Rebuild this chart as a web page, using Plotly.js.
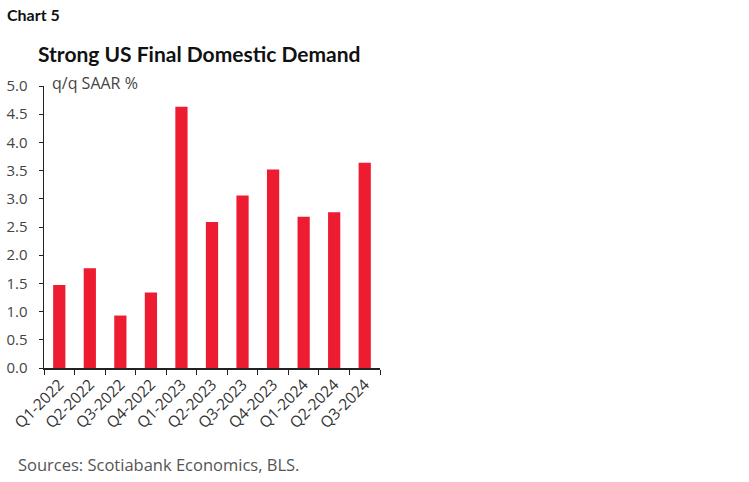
<!DOCTYPE html>
<html>
<head>
<meta charset="utf-8">
<script src="https://cdn.plot.ly/plotly-3.0.1.min.js"></script>
<style>
  html, body { margin: 0; padding: 0; background: #fff; }
  #chart { width: 749px; height: 482px; }
</style>
</head>
<body>
<div id="chart"></div>
<script>
// 数据：季度 + 环比年化增速
const quarters = [
  "Q1-2022", "Q2-2022", "Q3-2022", "Q4-2022",
  "Q1-2023", "Q2-2023", "Q3-2023", "Q4-2023",
  "Q1-2024", "Q2-2024", "Q3-2024",
];
const demandGrowth = [1.47, 1.77, 0.93, 1.34, 4.63, 2.59, 3.06, 3.52, 2.68, 2.76, 3.64];
const yTicks = [0, 0.5, 1, 1.5, 2, 2.5, 3, 3.5, 4, 4.5, 5];

const BAR_RED = "#ED1C31";
const boldFont = "Lato, 'Open Sans', sans-serif";
const textFont = "'Open Sans', Lato, sans-serif";

const trace = {
  x: quarters,
  y: demandGrowth,
  type: "bar",
  width: 0.4,
  marker: { color: BAR_RED },
  hoverinfo: "skip",
};

const layout = {
  width: 749,
  height: 482,
  margin: { t: 86, r: 369, b: 114, l: 44 },
  paper_bgcolor: "#fff",
  plot_bgcolor: "#fff",
  showlegend: false,
  font: { family: textFont, size: 15, color: "#444" },
  xaxis: {
    type: "category",
    tickson: "boundaries",
    ticks: "outside",
    ticklen: 5,
    tickcolor: "#222",
    showline: true,
    linecolor: "#222",
    linewidth: 1.5,
    showgrid: false,
    zeroline: false,
    tickangle: -45,
    tickfont: { family: textFont, size: 15.5, color: "#333" },
  },
  yaxis: {
    range: [0, 5],
    tickvals: yTicks,
    ticktext: yTicks.map((v) => v.toFixed(1)),
    ticks: "outside",
    ticklen: 4,
    ticklabelstandoff: 8,
    tickcolor: "#222",
    showline: true,
    linecolor: "#222",
    linewidth: 1.5,
    showgrid: false,
    zeroline: false,
    tickfont: { family: textFont, size: 15, color: "#444" },
  },
  annotations: [
    {
      text: "<b>Chart 5</b>",
      xref: "paper", yref: "paper",
      x: 0, y: 1,
      xanchor: "left", yanchor: "middle",
      // 相对纸面定位
      xshift: -39, yshift: 72,
      showarrow: false,
      font: { family: boldFont, size: 16, color: "#111" },
    },
    {
      text: "<b>Strong US Final Domestic Demand</b>",
      xref: "paper", yref: "paper",
      x: 0, y: 1,
      xanchor: "left", yanchor: "middle",
      xshift: -8, yshift: 33,
      showarrow: false,
      font: { family: boldFont, size: 21, color: "#111" },
    },
    {
      text: "q/q SAAR %",
      xref: "paper", yref: "paper",
      x: 0, y: 1,
      xanchor: "left", yanchor: "middle",
      xshift: 6, yshift: 3,
      showarrow: false,
      font: { family: textFont, size: 16, color: "#444" },
    },
    {
      text: "Sources: Scotiabank Economics, BLS.",
      xref: "paper", yref: "paper",
      x: 0, y: 0,
      xanchor: "left", yanchor: "middle",
      xshift: -28, yshift: -96,
      showarrow: false,
      font: { family: textFont, size: 16.5, color: "#555" },
    },
  ],
};

Plotly.newPlot("chart", [trace], layout, { displayModeBar: false, staticPlot: true });
</script>
</body>
</html>
